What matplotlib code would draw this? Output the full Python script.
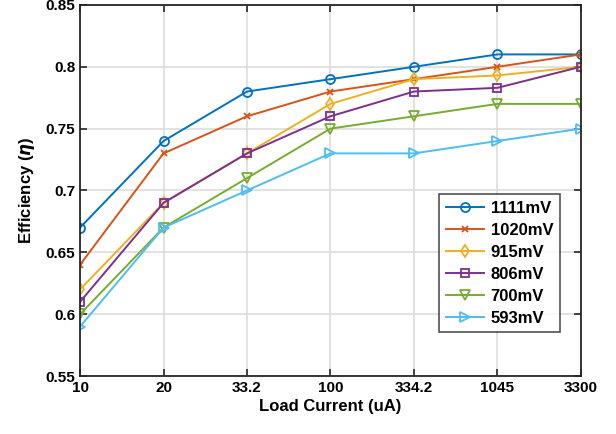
import matplotlib
matplotlib.use("Agg")
import matplotlib.pyplot as plt

categories = ["10", "20", "33.2", "100", "334.2", "1045", "3300"]
labels = ["1111mV", "1020mV", "915mV", "806mV", "700mV", "593mV"]
s1111 = [0.67, 0.74, 0.78, 0.79, 0.80, 0.81, 0.81]
s1020 = [0.64, 0.73, 0.76, 0.78, 0.79, 0.80, 0.81]
s915 = [0.62, 0.69, 0.73, 0.77, 0.79, 0.793, 0.80]
s806 = [0.61, 0.69, 0.73, 0.76, 0.78, 0.783, 0.80]
s700 = [0.60, 0.67, 0.71, 0.75, 0.76, 0.77, 0.77]
s593 = [0.59, 0.67, 0.70, 0.73, 0.73, 0.74, 0.75]
series = [s1111, s1020, s915, s806, s700, s593]

colors = ["#0072BD", "#D95319", "#EDB120", "#7E2F8E", "#77AC30", "#4DBEEE"]
markers = ["o", "x", "d", "s", "v", ">"]
msizes = [6.5, 4.5, 6.5, 5.5, 6.5, 6.5]

plt.rcParams['font.family'] = ['Liberation Sans', 'DejaVu Sans']
plt.rcParams['font.weight'] = 'bold'

fig = plt.figure(figsize=(6.16, 4.34), dpi=100)
ax = fig.add_axes([0.13, 0.1336, 0.813, 0.855])
x = list(range(len(categories)))
for s, lab, c, m, ms in zip(series, labels, colors, markers, msizes):
    ax.plot(x, s, color=c, marker=m, markersize=ms, markerfacecolor='none',
            markeredgewidth=1.3, linewidth=1.4, label=lab)

ax.set_xlim(0, 6)
ax.set_ylim(0.55, 0.85)
ax.set_xticks(x)
ax.set_xticklabels(categories)
ax.set_yticks([0.55, 0.6, 0.65, 0.7, 0.75, 0.8, 0.85])
ax.set_yticklabels(["0.55", "0.6", "0.65", "0.7", "0.75", "0.8", "0.85"])
ax.grid(True, color='#DDDDDD', linewidth=1.2)
ax.set_axisbelow(True)
ax.tick_params(labelsize=11, direction='in', length=5, width=1.2, top=True, right=True, colors='#262626')
for sp in ax.spines.values():
    sp.set_linewidth(1.3)
    sp.set_color('#262626')
for t in ax.get_xticklabels() + ax.get_yticklabels():
    t.set_fontweight('bold')
    t.set_color('black')
ax.set_xlabel("Load Current (uA)", fontsize=12, fontweight='bold', labelpad=3)
ax.set_ylabel(r"Efficiency ($\eta$)", fontsize=12, fontweight='bold', labelpad=6)

leg = ax.legend(loc='lower right', bbox_to_anchor=(0.975, 0.095), fontsize=12,
                frameon=True, fancybox=False, edgecolor='#262626',
                handlelength=2.3, labelspacing=0.42, borderpad=0.4, handletextpad=0.4)
leg.get_frame().set_linewidth(1.2)
for t in leg.get_texts():
    t.set_fontweight('bold')

fig.savefig("out.png", dpi=100)
